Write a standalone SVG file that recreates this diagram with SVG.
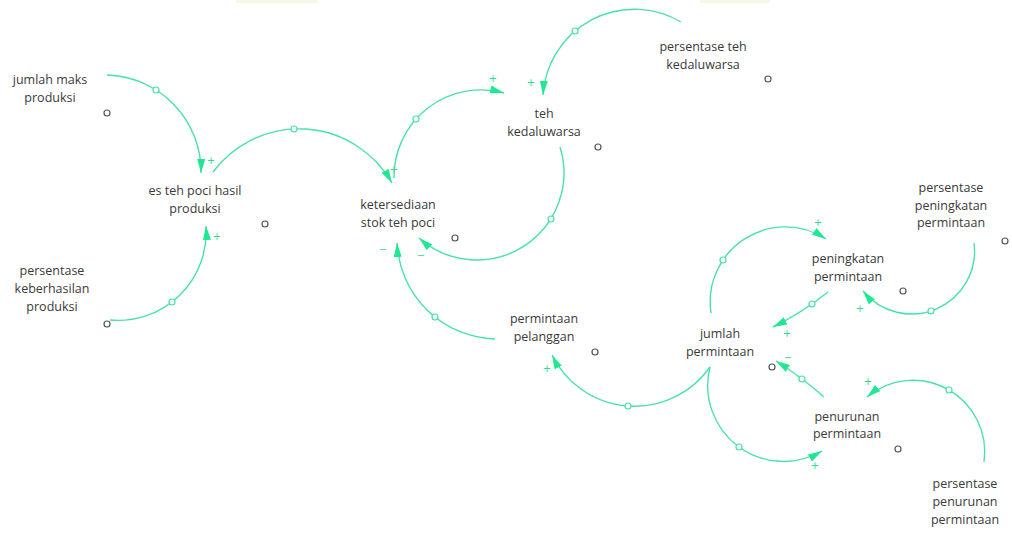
<svg xmlns="http://www.w3.org/2000/svg" width="1012" height="539" viewBox="0 0 1012 539">
<style>
.t{font-family:"Open Sans","Noto Sans","DejaVu Sans",sans-serif;font-size:12.5px;fill:#3a3a3a;text-anchor:middle}
.c{fill:#fff;stroke:#555;stroke-width:1.2}
.l{fill:none;stroke:#48e2a6;stroke-width:1.4;marker-end:url(#ah)}
.h{fill:#fff;stroke:#48e2a6;stroke-width:1.2}
.p{font-family:"DejaVu Sans",sans-serif;font-size:10px;fill:#2fdc8c;text-anchor:middle}
</style>
<defs>
<marker id="ah" markerUnits="userSpaceOnUse" viewBox="0 0 14 8" markerWidth="14" markerHeight="8" refX="14" refY="4" orient="auto">
<path d="M0,0 L14,4 L0,8 z" fill="#1ee892"/>
</marker>
</defs>
<rect width="1012" height="539" fill="#fff"/>
<rect x="236" y="0" width="82" height="3" fill="#f4f9e6"/>
<rect x="700" y="0" width="70" height="3" fill="#f4f9e6"/>

<g id="connectors">
<path class="l" d="M107,75 A96.7,96.7 0 0 1 201,173"/>
<path class="l" d="M110,320 A88.2,88.2 0 0 0 206,226"/>
<path class="l" d="M213,172 A107.1,107.1 0 0 1 392,183"/>
<path class="l" d="M394,178 A87,87 0 0 1 504,93"/>
<path class="l" d="M681,22 A91.5,91.5 0 0 0 543,95"/>
<path class="l" d="M560,147 A87.1,87.1 0 0 1 419,238"/>
<path class="l" d="M495,339 A101.2,101.2 0 0 1 397,243"/>
<path class="l" d="M710,367 A92.1,92.1 0 0 1 552,355"/>
<path class="l" d="M711,313 A75,75 0 0 1 826,239"/>
<path class="l" d="M828,292 A295,295 0 0 1 773,327"/>
<path class="l" d="M974,243 A62.9,62.9 0 0 1 863,291"/>
<path class="l" d="M824,397 A374,374 0 0 0 776,361"/>
<path class="l" d="M710,367 A75.9,75.9 0 0 0 822,451"/>
<path class="l" d="M984,462 A71.7,71.7 0 0 0 867,397"/>
<circle class="h" cx="156" cy="90" r="3"/>
<circle class="h" cx="172" cy="302" r="3"/>
<circle class="h" cx="294" cy="129" r="3"/>
<circle class="h" cx="416" cy="119" r="3"/>
<circle class="h" cx="575" cy="31" r="3"/>
<circle class="h" cx="551" cy="219" r="3"/>
<circle class="h" cx="435" cy="317" r="3"/>
<circle class="h" cx="628" cy="406" r="3"/>
<circle class="h" cx="723" cy="260" r="3"/>
<circle class="h" cx="812" cy="304" r="3"/>
<circle class="h" cx="931" cy="311" r="3"/>
<circle class="h" cx="802" cy="379" r="3"/>
<circle class="h" cx="739" cy="447" r="3"/>
<circle class="h" cx="949" cy="390" r="3"/>
<text class="p" x="211" y="164">+</text>
<text class="p" x="217" y="240">+</text>
<text class="p" x="394" y="173">+</text>
<text class="p" x="493" y="82">+</text>
<text class="p" x="531" y="86">+</text>
<text class="p" x="421" y="259">−</text>
<text class="p" x="383" y="253">−</text>
<text class="p" x="547" y="372">+</text>
<text class="p" x="818" y="226">+</text>
<text class="p" x="787" y="337">+</text>
<text class="p" x="860" y="312">+</text>
<text class="p" x="788" y="361">−</text>
<text class="p" x="815" y="469">+</text>
<text class="p" x="868" y="385">+</text>
</g>

<g id="jumlah-maks-produksi">
<text class="t" x="50" y="84">jumlah maks</text>
<text class="t" x="50" y="102">produksi</text>
<circle class="c" cx="107" cy="113" r="3"/>
</g>
<g id="es-teh-poci-hasil-produksi">
<text class="t" x="195" y="195">es teh poci hasil</text>
<text class="t" x="195" y="213">produksi</text>
<circle class="c" cx="265" cy="224" r="3"/>
</g>
<g id="persentase-keberhasilan-produksi">
<text class="t" x="52" y="275">persentase</text>
<text class="t" x="52" y="293">keberhasilan</text>
<text class="t" x="52" y="311">produksi</text>
<circle class="c" cx="107" cy="324" r="3"/>
</g>
<g id="ketersediaan-stok-teh-poci">
<text class="t" x="398" y="209">ketersediaan</text>
<text class="t" x="398" y="227">stok teh poci</text>
<circle class="c" cx="455" cy="238" r="3"/>
</g>
<g id="teh-kedaluwarsa">
<text class="t" x="544" y="118">teh</text>
<text class="t" x="544" y="136">kedaluwarsa</text>
<circle class="c" cx="598" cy="147" r="3"/>
</g>
<g id="persentase-teh-kedaluwarsa">
<text class="t" x="703" y="51">persentase teh</text>
<text class="t" x="703" y="69">kedaluwarsa</text>
<circle class="c" cx="768" cy="79" r="3"/>
</g>
<g id="persentase-peningkatan-permintaan">
<text class="t" x="951" y="192">persentase</text>
<text class="t" x="951" y="210">peningkatan</text>
<text class="t" x="951" y="227">permintaan</text>
<circle class="c" cx="1005" cy="241" r="3"/>
</g>
<g id="peningkatan-permintaan">
<text class="t" x="848" y="263">peningkatan</text>
<text class="t" x="848" y="281">permintaan</text>
<circle class="c" cx="903" cy="291" r="3"/>
</g>
<g id="jumlah-permintaan">
<text class="t" x="720" y="338">jumlah</text>
<text class="t" x="720" y="356">permintaan</text>
<circle class="c" cx="772" cy="367" r="3"/>
</g>
<g id="permintaan-pelanggan">
<text class="t" x="544" y="323">permintaan</text>
<text class="t" x="544" y="341">pelanggan</text>
<circle class="c" cx="595" cy="352" r="3"/>
</g>
<g id="penurunan-permintaan">
<text class="t" x="847" y="421">penurunan</text>
<text class="t" x="847" y="438">permintaan</text>
<circle class="c" cx="898" cy="449" r="3"/>
</g>
<g id="persentase-penurunan-permintaan">
<text class="t" x="965" y="488">persentase</text>
<text class="t" x="965" y="506">penurunan</text>
<text class="t" x="965" y="524">permintaan</text>
</g>
</svg>
